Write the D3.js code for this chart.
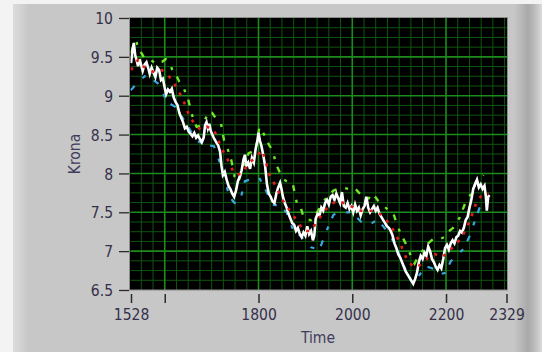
<!DOCTYPE html>
<html>
<head>
<meta charset="utf-8">
<script src="https://cdn.jsdelivr.net/npm/d3@7"></script>
<style>
  html, body { margin: 0; padding: 0; background: #ffffff; }
  svg { display: block; }
  text { font-family: "DejaVu Sans Condensed", "DejaVu Sans", sans-serif; font-stretch: condensed; }
</style>
</head>
<body>
<svg id="chart" width="542" height="352"></svg>
<script>
// Axis ticks
const timeTicks = [1528, 1600, 1800, 2000, 2200, 2329];
const timeTickLabels = ["1528", "", "1800", "2000", "2200", "2329"];
const kronaTicks = [6.5, 7, 7.5, 8, 8.5, 9, 9.5, 10];
const kronaTickLabels = ["6.5", "7", "7.5", "8", "8.5", "9", "9.5", "10"];

// Exchange rate, [time, krona]
const priceSeries = [
  [1528, 9.42], [1531, 9.58], [1534, 9.68], [1537, 9.52], [1540, 9.46], [1543, 9.38],
  [1546, 9.47], [1549, 9.41], [1553, 9.32], [1557, 9.40], [1561, 9.43], [1565, 9.35],
  [1568, 9.28], [1572, 9.36], [1576, 9.30], [1580, 9.24], [1584, 9.36], [1588, 9.33],
  [1592, 9.20], [1596, 9.22], [1600, 9.10], [1603, 9.02], [1607, 9.08], [1611, 9.05],
  [1615, 9.09], [1619, 8.98], [1623, 8.92], [1627, 8.88], [1631, 8.78], [1635, 8.72],
  [1639, 8.66], [1643, 8.58], [1647, 8.60], [1651, 8.54], [1655, 8.51], [1659, 8.48],
  [1663, 8.52], [1667, 8.46], [1671, 8.49], [1675, 8.44], [1679, 8.40], [1683, 8.46],
  [1686, 8.62], [1689, 8.66], [1692, 8.58], [1695, 8.64], [1698, 8.55], [1702, 8.49],
  [1706, 8.44], [1710, 8.40], [1714, 8.36], [1718, 8.28], [1721, 8.10], [1724, 7.98],
  [1728, 8.02], [1732, 7.92], [1736, 7.84], [1740, 7.80], [1744, 7.74], [1748, 7.70],
  [1752, 7.78], [1756, 7.90], [1760, 7.96], [1764, 8.04], [1768, 8.18], [1771, 8.24],
  [1774, 8.10], [1778, 8.14], [1782, 8.06], [1786, 8.20], [1790, 8.14], [1794, 8.32],
  [1797, 8.40], [1800, 8.52], [1803, 8.42], [1806, 8.36], [1810, 8.24], [1814, 8.10],
  [1818, 7.86], [1822, 7.74], [1826, 7.70], [1830, 7.64], [1834, 7.62], [1838, 7.74],
  [1842, 7.82], [1846, 7.88], [1849, 7.80], [1852, 7.70], [1856, 7.62], [1860, 7.56],
  [1864, 7.48], [1868, 7.42], [1872, 7.36], [1876, 7.34], [1880, 7.26], [1884, 7.30],
  [1888, 7.22], [1892, 7.18], [1896, 7.24], [1900, 7.20], [1904, 7.32], [1908, 7.22],
  [1912, 7.26], [1916, 7.14], [1919, 7.20], [1922, 7.42], [1926, 7.48], [1930, 7.46],
  [1934, 7.56], [1938, 7.52], [1942, 7.62], [1946, 7.66], [1950, 7.60], [1954, 7.70],
  [1958, 7.72], [1962, 7.66], [1966, 7.74], [1970, 7.68], [1974, 7.62], [1978, 7.76],
  [1982, 7.58], [1986, 7.56], [1990, 7.62], [1994, 7.54], [1998, 7.58], [2002, 7.50],
  [2006, 7.60], [2010, 7.52], [2014, 7.56], [2018, 7.46], [2022, 7.54], [2026, 7.58],
  [2030, 7.70], [2034, 7.56], [2038, 7.50], [2042, 7.54], [2046, 7.58], [2050, 7.52],
  [2054, 7.56], [2058, 7.48], [2062, 7.44], [2066, 7.40], [2070, 7.36], [2074, 7.32],
  [2078, 7.30], [2082, 7.26], [2086, 7.20], [2090, 7.10], [2094, 7.04], [2098, 6.96],
  [2102, 6.92], [2106, 6.86], [2110, 6.80], [2114, 6.74], [2118, 6.70], [2122, 6.66],
  [2126, 6.62], [2130, 6.58], [2134, 6.64], [2138, 6.72], [2142, 6.86], [2146, 6.94],
  [2150, 6.90], [2154, 6.98], [2158, 6.94], [2162, 7.06], [2166, 7.00], [2170, 6.90],
  [2174, 6.86], [2178, 6.80], [2182, 6.76], [2186, 6.82], [2190, 6.78], [2194, 6.90],
  [2198, 7.04], [2202, 7.08], [2206, 7.02], [2210, 7.10], [2214, 7.14], [2218, 7.10],
  [2222, 7.18], [2226, 7.20], [2230, 7.26], [2234, 7.24], [2238, 7.30], [2242, 7.40],
  [2246, 7.44], [2250, 7.56], [2254, 7.66], [2258, 7.80], [2262, 7.86], [2266, 7.92],
  [2270, 7.82], [2274, 7.86], [2278, 7.80], [2282, 7.84], [2285, 7.70], [2287, 7.52],
  [2290, 7.70], [2293, 7.72]
];

// Upper band
const upperSeries = [
  [1528, 9.55], [1532, 9.62], [1539, 9.71], [1544, 9.60], [1550, 9.55], [1557, 9.48],
  [1565, 9.48], [1580, 9.42], [1595, 9.44], [1602, 9.47], [1609, 9.44], [1617, 9.32],
  [1624, 9.27], [1631, 9.18], [1639, 9.12], [1650, 8.95], [1661, 8.69], [1668, 8.60],
  [1680, 8.62], [1694, 8.79], [1701, 8.78], [1710, 8.70], [1720, 8.64], [1727, 8.41],
  [1735, 8.30], [1742, 8.17], [1749, 7.96], [1757, 7.89], [1768, 8.10], [1779, 8.26],
  [1794, 8.30], [1802, 8.60], [1812, 8.50], [1823, 8.36], [1830, 8.30], [1838, 8.11],
  [1852, 7.93], [1860, 7.90], [1873, 7.87], [1882, 7.61], [1889, 7.58], [1897, 7.42],
  [1904, 7.40], [1912, 7.40], [1925, 7.50], [1937, 7.63], [1950, 7.72], [1960, 7.78],
  [1978, 7.82], [1992, 7.80], [2007, 7.80], [2022, 7.70], [2035, 7.68], [2044, 7.74],
  [2055, 7.65], [2066, 7.59], [2078, 7.52], [2089, 7.46], [2098, 7.30], [2107, 7.18],
  [2118, 7.05], [2126, 6.92], [2133, 6.84], [2142, 6.95], [2151, 7.01], [2162, 7.10],
  [2173, 7.16], [2185, 7.15], [2196, 7.18], [2203, 7.24], [2215, 7.30], [2229, 7.43],
  [2243, 7.65], [2255, 7.75], [2265, 7.91], [2273, 7.93], [2280, 7.98]
];

// Moving average
const averageSeries = [
  [1528, 9.33], [1543, 9.46], [1554, 9.38], [1565, 9.33], [1580, 9.30], [1594, 9.33],
  [1609, 9.25], [1624, 9.12], [1639, 8.95], [1653, 8.73], [1668, 8.60], [1679, 8.56],
  [1690, 8.60], [1705, 8.56], [1720, 8.34], [1735, 8.17], [1749, 7.99], [1764, 7.99],
  [1779, 8.13], [1794, 8.21], [1808, 8.30], [1823, 7.99], [1838, 7.82], [1852, 7.65],
  [1867, 7.52], [1882, 7.39], [1897, 7.26], [1912, 7.26], [1926, 7.39], [1941, 7.52],
  [1956, 7.61], [1970, 7.65], [1985, 7.61], [2000, 7.57], [2015, 7.52], [2030, 7.52],
  [2044, 7.52], [2059, 7.48], [2074, 7.39], [2089, 7.26], [2103, 7.09], [2118, 6.87],
  [2133, 6.79], [2148, 6.83], [2162, 6.92], [2177, 6.96], [2192, 6.92], [2207, 7.01],
  [2222, 7.09], [2237, 7.22], [2251, 7.39], [2266, 7.65], [2280, 7.74], [2291, 7.74]
];

// Lower band
const lowerSeries = [
  [1527, 9.07], [1532, 9.10], [1539, 9.15], [1557, 9.25], [1572, 9.22], [1587, 9.15],
  [1605, 8.92], [1624, 8.85], [1646, 8.64], [1668, 8.42], [1687, 8.37], [1705, 8.35],
  [1720, 8.10], [1738, 7.70], [1749, 7.62], [1760, 7.63], [1771, 7.90], [1786, 7.93],
  [1801, 7.95], [1816, 7.78], [1830, 7.60], [1845, 7.58], [1860, 7.50], [1875, 7.25],
  [1889, 7.20], [1912, 7.05], [1930, 7.02], [1945, 7.26], [1960, 7.47], [1974, 7.50],
  [1993, 7.50], [2007, 7.45], [2022, 7.36], [2037, 7.34], [2052, 7.40], [2066, 7.32],
  [2081, 7.20], [2096, 7.02], [2111, 6.80], [2125, 6.62], [2133, 6.58], [2144, 6.70],
  [2159, 6.80], [2170, 6.78], [2184, 6.70], [2199, 6.72], [2210, 6.87], [2225, 6.95],
  [2237, 7.03], [2251, 7.20], [2262, 7.40], [2273, 7.58], [2280, 7.65]
];

const W = 542, H = 352;
const plot = { left: 129.5, right: 507.5, top: 17.5, bottom: 290 };

const svg = d3.select("#chart");
const defs = svg.append("defs");

const x = d3.scaleLinear().domain([1528, 2329]).range([131, 506.5]);
const y = d3.scaleLinear().domain([6.5, 10]).range([290, 18]);

// Panel background with bevelled edges
svg.append("rect").attr("width", W).attr("height", H).attr("fill", "#c7c7c7");

const leftGrad = defs.append("linearGradient").attr("id", "leftEdge")
  .attr("x1", "0").attr("x2", "1").attr("y1", "0").attr("y2", "0");
leftGrad.append("stop").attr("offset", "0").attr("stop-color", "#dcdcdc");
leftGrad.append("stop").attr("offset", "1").attr("stop-color", "#c7c7c7");
svg.append("rect").attr("x", 13).attr("y", 0).attr("width", 16).attr("height", H)
  .attr("fill", "url(#leftEdge)");

const rightGrad = defs.append("linearGradient").attr("id", "rightEdge")
  .attr("x1", "0").attr("x2", "1").attr("y1", "0").attr("y2", "0");
rightGrad.append("stop").attr("offset", "0").attr("stop-color", "#c7c7c7");
rightGrad.append("stop").attr("offset", "0.5").attr("stop-color", "#a9a9a9");
rightGrad.append("stop").attr("offset", "0.7").attr("stop-color", "#b8b8b8");
rightGrad.append("stop").attr("offset", "1").attr("stop-color", "#dadada");
svg.append("rect").attr("x", 514).attr("y", 0).attr("width", W - 514).attr("height", H)
  .attr("fill", "url(#rightEdge)");

svg.append("rect").attr("x", 0).attr("y", 0).attr("width", W).attr("height", 4).attr("fill", "#f3f3f3");
svg.append("rect").attr("x", 0).attr("y", 0).attr("width", 13).attr("height", H).attr("fill", "#f3f3f3");

// Plot area
svg.append("rect")
  .attr("x", plot.left).attr("y", plot.top)
  .attr("width", plot.right - plot.left).attr("height", plot.bottom - plot.top)
  .attr("fill", "#000000");

defs.append("clipPath").attr("id", "plotClip")
  .append("rect")
  .attr("x", plot.left + 1).attr("y", plot.top + 0.5)
  .attr("width", plot.right - plot.left - 1.5).attr("height", plot.bottom - plot.top - 0.5);

const grid = svg.append("g").attr("clip-path", "url(#plotClip)");

const majorTime = [1600, 1800, 2000, 2200];
const minorTime = d3.range(1550, 2329, 25).filter(t => !majorTime.includes(t));
const majorKrona = [7, 7.5, 8, 8.5, 9, 9.5];
const minorKrona = d3.range(6.625, 10, 0.125).filter(v => Math.abs(v * 2 - Math.round(v * 2)) > 1e-6);

grid.selectAll(".minor-v").data(minorTime).join("line")
  .attr("x1", d => x(d)).attr("x2", d => x(d))
  .attr("y1", plot.top).attr("y2", plot.bottom)
  .attr("stroke", "#0f560f").attr("stroke-width", 1);
grid.selectAll(".minor-h").data(minorKrona).join("line")
  .attr("x1", plot.left).attr("x2", plot.right)
  .attr("y1", d => y(d)).attr("y2", d => y(d))
  .attr("stroke", "#0f560f").attr("stroke-width", 1);
grid.selectAll(".major-v").data(majorTime).join("line")
  .attr("x1", d => x(d)).attr("x2", d => x(d))
  .attr("y1", plot.top).attr("y2", plot.bottom)
  .attr("stroke", "#1c8c1c").attr("stroke-width", 1.6);
grid.selectAll(".major-h").data(majorKrona).join("line")
  .attr("x1", plot.left).attr("x2", plot.right)
  .attr("y1", d => y(d)).attr("y2", d => y(d))
  .attr("stroke", "#1c8c1c").attr("stroke-width", 1.6);

// Series
const line = d3.line().x(d => x(d[0])).y(d => y(d[1]));
const series = svg.append("g").attr("clip-path", "url(#plotClip)");

series.append("path").datum(lowerSeries).attr("d", line)
  .attr("fill", "none").attr("stroke", "#3aa6de").attr("stroke-width", 2.2)
  .attr("stroke-dasharray", "6,11,4,9");
series.append("path").datum(upperSeries).attr("d", line)
  .attr("fill", "none").attr("stroke", "#6ee826").attr("stroke-width", 2.4)
  .attr("stroke-dasharray", "6,9,3,8");
series.append("path").datum(priceSeries).attr("d", line)
  .attr("fill", "none").attr("stroke", "#ffffff").attr("stroke-width", 2.6)
  .attr("stroke-linejoin", "miter");
series.append("path").datum(averageSeries).attr("d", line)
  .attr("fill", "none").attr("stroke", "#e01c1c").attr("stroke-width", 2.6)
  .attr("stroke-dasharray", "3,7");

// Plot border
svg.append("rect")
  .attr("x", plot.left).attr("y", plot.top)
  .attr("width", plot.right - plot.left).attr("height", plot.bottom - plot.top)
  .attr("fill", "none").attr("stroke", "#8c8c8c").attr("stroke-width", 1);

const textColor = "#34304a";

// Y axis
const yAxis = svg.append("g").attr("transform", "translate(129,0)")
  .call(d3.axisLeft(y).tickValues(kronaTicks).tickSize(10).tickPadding(6)
    .tickFormat((d, i) => kronaTickLabels[i]));
yAxis.select(".domain").remove();
yAxis.selectAll(".tick line").attr("stroke", "#2a2a2a").attr("stroke-width", 1.3);
yAxis.selectAll(".tick text").attr("fill", textColor)
  .style("font-size", "15.5px").attr("dy", "0.36em");

// X axis
const xAxis = svg.append("g").attr("transform", "translate(0,294)")
  .call(d3.axisBottom(x).tickValues(timeTicks).tickSize(9).tickPadding(4)
    .tickFormat((d, i) => timeTickLabels[i]));
xAxis.select(".domain").remove();
xAxis.selectAll(".tick line").attr("stroke", "#2a2a2a").attr("stroke-width", 1.5);
xAxis.selectAll(".tick text").attr("fill", textColor)
  .style("font-size", "15.5px").attr("y", 25.5).attr("dy", 0);

// Axis titles
svg.append("text").attr("x", 318).attr("y", 343).attr("text-anchor", "middle")
  .attr("fill", "#3e3c5c").style("font-size", "15.5px").text("Time");
svg.append("text").attr("transform", "translate(80,154) rotate(-90)")
  .attr("text-anchor", "middle").attr("fill", "#3e3c5c").style("font-size", "15.5px").text("Krona");
</script>
</body>
</html>
